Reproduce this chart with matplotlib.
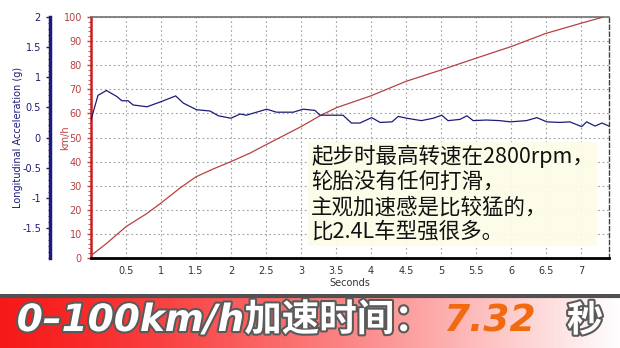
import matplotlib.pyplot as plt
import matplotlib.patheffects as pe
from matplotlib.ticker import MultipleLocator
import numpy as np

# velocidad (km/h) frente al tiempo (s)
t_vel = [0.0, 0.22, 0.5, 0.8, 1.0, 1.27, 1.5, 1.75, 2.0, 2.27, 2.5, 3.0, 3.27,
         3.5, 4.0, 4.5, 5.0, 5.5, 6.0, 6.5, 7.0, 7.32]
vel = [1.0, 6.0, 13.0, 18.5, 22.8, 29.0, 33.7, 37.0, 40.0, 43.5, 47.0, 54.5,
       59.0, 62.3, 67.3, 73.3, 78.0, 82.9, 87.7, 93.2, 97.4, 100.0]

# aceleracion longitudinal (g)
t_acc = [0.0, 0.1, 0.22, 0.37, 0.44, 0.53, 0.6, 0.8, 0.99, 1.21, 1.32, 1.51,
         1.7, 1.82, 2.0, 2.13, 2.22, 2.51, 2.65, 2.89, 3.03, 3.2, 3.27, 3.6,
         3.72, 3.84, 4.01, 4.13, 4.3, 4.39, 4.51, 4.72, 4.89, 5.01, 5.1, 5.27,
         5.37, 5.46, 5.65, 5.84, 5.99, 6.22, 6.37, 6.51, 6.7, 6.84, 7.01, 7.08,
         7.2, 7.3, 7.4]
acc = [0.29, 0.70, 0.78, 0.68, 0.61, 0.61, 0.54, 0.51, 0.59, 0.69, 0.57, 0.46,
       0.44, 0.36, 0.32, 0.39, 0.37, 0.47, 0.42, 0.42, 0.47, 0.45, 0.37, 0.37,
       0.24, 0.24, 0.33, 0.25, 0.26, 0.35, 0.32, 0.28, 0.32, 0.37, 0.28, 0.30,
       0.36, 0.28, 0.29, 0.28, 0.26, 0.28, 0.33, 0.26, 0.25, 0.26, 0.18, 0.26,
       0.19, 0.24, 0.19]

x_ticks = [0.5, 1, 1.5, 2, 2.5, 3, 3.5, 4, 4.5, 5, 5.5, 6, 6.5, 7]
acc_ticks = [2, 1.5, 1, 0.5, 0, -0.5, -1, -1.5]

texto = "起步时最高转速在2800rpm，\n轮胎没有任何打滑，\n主观加速感是比较猛的，\n比2.4L车型强很多。"

rojo = '#b84040'
azul = '#1c1c78'

fig = plt.figure(figsize=(6.2, 3.48), dpi=100)
fig.patch.set_facecolor('white')

ax = fig.add_axes([91 / 620, 1 - 258 / 348, 518 / 620, 241 / 348])
ax.plot(t_vel, vel, color=rojo, lw=0.9, zorder=3)
ax.set_xlim(0, 7.4)
ax.set_ylim(0, 100)
ax.set_xticks(x_ticks)
ax.set_xticklabels([('%g' % v) for v in x_ticks])
ax.yaxis.set_major_locator(MultipleLocator(10))
ax.yaxis.set_minor_locator(MultipleLocator(2))
ax.grid(True, which='major', color='#a0a0a0', ls=(0, (1.5, 2.5)), lw=0.8)
ax.tick_params(axis='x', colors='#333333', labelsize=7, length=0, pad=6)
ax.tick_params(axis='y', colors=rojo, labelsize=7, length=3, width=1, labelcolor=rojo)
ax.tick_params(axis='y', which='minor', colors=rojo, length=2)
ax.set_xlabel('Seconds', fontsize=7, color='#333333', labelpad=1)
ax.set_ylabel('km/h', fontsize=7, color=rojo, labelpad=-5)
ax.spines['left'].set_color('#c82020')
ax.spines['left'].set_linewidth(1.8)
ax.spines['bottom'].set_color('black')
ax.spines['bottom'].set_linewidth(2)
ax.spines['top'].set_color('#707070')
ax.spines['top'].set_linewidth(1.2)
ax.spines['right'].set_color('#404040')
ax.spines['right'].set_linestyle((0, (3, 2)))
ax.spines['right'].set_linewidth(1)

# eje de aceleracion a la izquierda
ax2 = ax.twinx()
ax2.plot(t_acc, acc, color=azul, lw=0.9, zorder=4)
ax2.set_ylim(-2, 2)
ax2.set_yticks(acc_ticks)
ax2.set_yticklabels([('%g' % v) for v in acc_ticks])
ax2.yaxis.set_minor_locator(MultipleLocator(0.1))
ax2.spines['left'].set_position(('axes', -41 / 518))
ax2.spines['left'].set_visible(True)
ax2.spines['left'].set_color(azul)
ax2.spines['left'].set_linewidth(2.5)
ax2.spines['right'].set_visible(False)
ax2.spines['top'].set_visible(False)
ax2.spines['bottom'].set_visible(False)
ax2.yaxis.set_label_position('left')
ax2.yaxis.tick_left()
ax2.tick_params(axis='y', colors=azul, labelsize=7, length=3, width=1)
ax2.tick_params(axis='y', which='minor', colors=azul, length=1.5)
ax2.set_ylabel('Longitudinal Acceleration (g)', fontsize=7, color=azul, labelpad=-1)

# texto explicativo
fig.text(311 / 620, 1 - 145 / 348, texto, fontsize=15.5, va='top', ha='left',
         family=['Noto Sans CJK SC', 'DejaVu Sans'], color='#111111',
         linespacing=1.17,
         bbox=dict(facecolor='#fcfce8', edgecolor='none', pad=2, alpha=0.95))

# banda inferior con degradado
banda = fig.add_axes([0, 0, 1, 54 / 348])
grad = np.linspace(0, 1, 256)
r = 0.97 + 0.03 * grad
g = 0.10 + 0.90 * grad ** 1.3
b = 0.10 + 0.90 * grad ** 1.3
img = np.dstack([r, g, b])
img = np.repeat(img, 10, axis=0)
banda.imshow(img, aspect='auto', extent=[0, 1, 0, 1])
banda.set_xlim(0, 1)
banda.set_ylim(0, 1)
banda.axis('off')
banda.axhline(0.97, color='#505050', lw=3)

borde = [pe.withStroke(linewidth=3, foreground='#5a5a5a')]
banda.text(0.027, 0.5, '0–100km/h加速时间：', fontsize=27, fontweight='bold',
           style='oblique', color='white', va='center', ha='left',
           family=['DejaVu Sans', 'Noto Sans CJK SC'], path_effects=borde)
banda.text(443 / 620, 0.5, '7.32', fontsize=27, fontweight='bold', style='oblique',
           color='#f26a10', va='center', ha='left', family=['DejaVu Sans'])
banda.text(567 / 620, 0.5, '秒', fontsize=26, fontweight='heavy', color='white',
           va='center', ha='left', family=['Noto Sans CJK SC'], path_effects=borde)

plt.savefig('out.png', dpi=100)
